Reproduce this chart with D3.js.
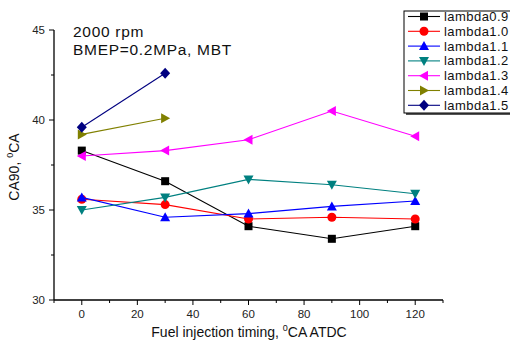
<!DOCTYPE html>
<html><head><meta charset="utf-8">
<script src="https://cdn.jsdelivr.net/npm/d3@7"></script>
<style>body{margin:0;background:#fff;} text{font-family:Arial,"Liberation Sans",sans-serif;}</style>
</head><body>
<svg id="c" width="510" height="347"></svg>
<script>
const timings = [0, 30, 60, 90, 120];
const lambda09 = [38.3, 36.6, 34.1, 33.4, 34.1];
const lambda10 = [35.6, 35.3, 34.5, 34.6, 34.5];
const lambda11 = [35.7, 34.6, 34.8, 35.2, 35.5];
const lambda12 = [35.0, 35.7, 36.7, 36.4, 35.9];
const lambda13 = [38.0, 38.3, 38.9, 40.5, 39.1];
const lambda14 = [39.2, 40.1];
const lambda15 = [39.6, 42.6];
const seriesNames = ["lambda0.9","lambda1.0","lambda1.1","lambda1.2","lambda1.3","lambda1.4","lambda1.5"];
const xTicks = [0, 20, 40, 60, 80, 100, 120];
const yTicks = [30, 35, 40, 45];

const series = [
  {name: seriesNames[0], values: lambda09, color: "#000000", sym: "square"},
  {name: seriesNames[1], values: lambda10, color: "#ff0000", sym: "circle"},
  {name: seriesNames[2], values: lambda11, color: "#0000ff", sym: "up"},
  {name: seriesNames[3], values: lambda12, color: "#008080", sym: "down"},
  {name: seriesNames[4], values: lambda13, color: "#ff00ff", sym: "left"},
  {name: seriesNames[5], values: lambda14, color: "#808000", sym: "right"},
  {name: seriesNames[6], values: lambda15, color: "#000080", sym: "diamond"}
];

const svg = d3.select("#c");
const x = d3.scaleLinear().domain([-10, 130]).range([54, 443]);
const y = d3.scaleLinear().domain([30, 45]).range([300, 30]);

// axes
const xAxis = svg.append("g").attr("transform", "translate(0,300)");
xAxis.append("line").attr("x1", 54).attr("x2", 443).attr("stroke", "#000").attr("stroke-width", 1.3);
const xMinor = d3.range(-10, 131, 10);
xAxis.selectAll("line.t").data(xMinor).enter().append("line")
  .attr("x1", d => x(d)).attr("x2", d => x(d)).attr("y1", 0)
  .attr("y2", d => xTicks.includes(d) ? 5 : 3).attr("stroke", "#000").attr("stroke-width", 1);
xAxis.selectAll("text").data(xTicks).enter().append("text")
  .attr("x", d => x(d)).attr("y", 18).attr("text-anchor", "middle")
  .attr("font-size", 11.5).attr("fill", "#222").text(d => d);

const yAxis = svg.append("g");
yAxis.append("line").attr("x1", 54).attr("x2", 54).attr("y1", 30).attr("y2", 300).attr("stroke", "#000").attr("stroke-width", 1.3);
const yMinor = d3.range(30, 45.01, 2.5);
yAxis.selectAll("line.t").data(yMinor).enter().append("line")
  .attr("y1", d => y(d)).attr("y2", d => y(d)).attr("x1", 54)
  .attr("x2", d => yTicks.includes(d) ? 49 : 51).attr("stroke", "#000").attr("stroke-width", 1);
yAxis.selectAll("text").data(yTicks).enter().append("text")
  .attr("x", 45).attr("y", d => y(d) + 4).attr("text-anchor", "end")
  .attr("font-size", 11.5).attr("fill", "#222").text(d => d);

// axis titles
const xt = svg.append("text").attr("x", 249).attr("y", 337).attr("text-anchor", "middle").attr("font-size", 14).attr("fill", "#111");
xt.append("tspan").text("Fuel injection timing, ");
xt.append("tspan").attr("font-size", 9).attr("dy", -6).text("0");
xt.append("tspan").attr("dy", 6).text("CA ATDC");

const yt = svg.append("text").attr("transform", "translate(19,167) rotate(-90)").attr("text-anchor", "middle").attr("font-size", 14).attr("fill", "#111");
yt.append("tspan").text("CA90, ");
yt.append("tspan").attr("font-size", 9).attr("dy", -6).text("0");
yt.append("tspan").attr("dy", 6).text("CA");

// annotation
svg.append("text").attr("x", 73).attr("y", 37).attr("font-size", 15.5).attr("letter-spacing", 0.7).attr("fill", "#111").text("2000 rpm");
svg.append("text").attr("x", 73).attr("y", 55).attr("font-size", 15.5).attr("letter-spacing", 0.7).attr("fill", "#111").text("BMEP=0.2MPa, MBT");

function marker(g, sym, cx, cy, color) {
  if (sym === "square") g.append("rect").attr("x", cx - 4).attr("y", cy - 4).attr("width", 8).attr("height", 8).attr("fill", color);
  else if (sym === "circle") g.append("circle").attr("cx", cx).attr("cy", cy).attr("r", 4.5).attr("fill", color);
  else {
    let pts;
    if (sym === "up") pts = [[cx, cy - 5], [cx + 5, cy + 4], [cx - 5, cy + 4]];
    else if (sym === "down") pts = [[cx, cy + 5], [cx + 5, cy - 4], [cx - 5, cy - 4]];
    else if (sym === "left") pts = [[cx - 5, cy], [cx + 4, cy - 5], [cx + 4, cy + 5]];
    else if (sym === "right") pts = [[cx + 5, cy], [cx - 4, cy - 5], [cx - 4, cy + 5]];
    else pts = [[cx, cy - 5.5], [cx + 5, cy], [cx, cy + 5.5], [cx - 5, cy]];
    g.append("polygon").attr("points", pts.map(p => p.join(",")).join(" ")).attr("fill", color);
  }
}

const line = d3.line().x(d => x(d[0])).y(d => y(d[1]));
series.forEach(s => {
  const pts = s.values.map((v, i) => [timings[i], v]);
  const g = svg.append("g");
  g.append("path").attr("d", line(pts)).attr("fill", "none").attr("stroke", s.color).attr("stroke-width", 1.1);
  pts.forEach(p => marker(g, s.sym, x(p[0]), y(p[1]), s.color));
});

// legend
const lg = svg.append("g");
lg.append("rect").attr("x", 406).attr("y", 13).attr("width", 110).attr("height", 102).attr("fill", "#555");
lg.append("rect").attr("x", 404).attr("y", 11).attr("width", 110).attr("height", 102).attr("fill", "#fff").attr("stroke", "#000").attr("stroke-width", 1);
series.forEach((s, i) => {
  const yy = 16.5 + i * 14.8;
  lg.append("line").attr("x1", 408).attr("x2", 440).attr("y1", yy).attr("y2", yy).attr("stroke", s.color).attr("stroke-width", 1.1);
  marker(lg, s.sym, 424, yy, s.color);
  lg.append("text").attr("x", 444).attr("y", yy + 4.5).attr("font-size", 13).attr("letter-spacing", 0.45).attr("fill", "#111").text(s.name);
});
</script>
</body></html>
